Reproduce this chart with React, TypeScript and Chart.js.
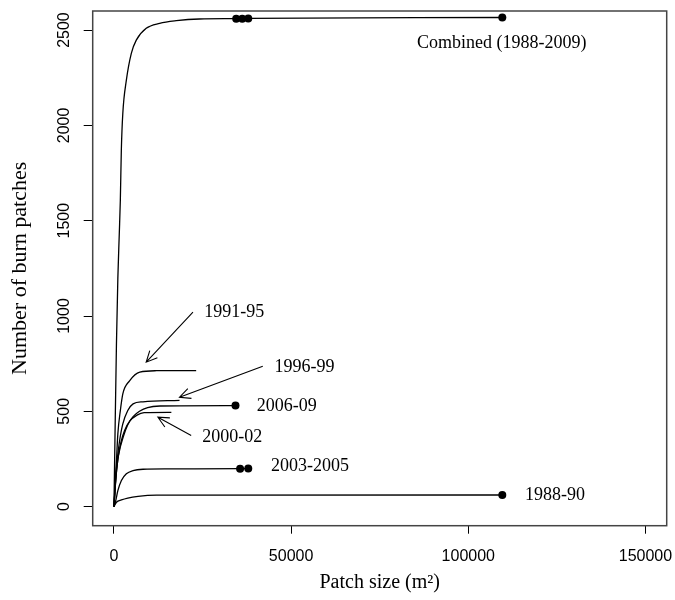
import React, { useEffect, useRef } from "react";
import { Chart, registerables } from "chart.js";

Chart.register(...registerables);

// ---- data (x = patch size in m², y = number of burn patches) ----
const combinedX = [0, 300, 700, 1100, 1500, 1800, 2080, 2500, 3500, 4900, 6300, 9100, 12900, 17600, 24100, 34500, 37900, 109600];
const combinedY = [0, 380, 850, 1200, 1430, 1607, 1870, 2064, 2237, 2378, 2447, 2509, 2535, 2549, 2558, 2560, 2561, 2566];
const p1991X = [0, 400, 700, 1100, 1800, 2500, 4400, 7300, 12000, 23200];
const p1991Y = [0, 150, 240, 383, 504, 592, 660, 706, 713, 714];
const p1996X = [0, 500, 1000, 1600, 2500, 3900, 5400, 8200, 18500];
const p1996Y = [0, 150, 260, 347, 434, 504, 539, 550, 557];
const p2006X = [0, 600, 1300, 2700, 3900, 5400, 7200, 9500, 13000, 34300];
const p2006Y = [0, 160, 270, 370, 430, 472, 500, 520, 528, 530];
const p2000X = [0, 500, 1100, 2000, 3000, 4500, 6500, 8500, 16200];
const p2000Y = [0, 140, 250, 340, 400, 450, 480, 493, 495];
const p2003X = [0, 500, 1100, 2100, 3500, 5400, 8200, 15000, 35600, 37900];
const p2003Y = [0, 31, 84, 137, 172, 189, 196, 198, 199, 200];
const p1988X = [0, 700, 2100, 3900, 6800, 12000, 109600];
const p1988Y = [0, 23, 35, 45, 54, 60, 61];

// end-point markers
const dotX = [34500, 36200, 37900, 109600, 34300, 35600, 37900, 109600];
const dotY = [2560, 2560, 2561, 2566, 530, 199, 200, 61];

const xTicks = [0, 50000, 100000, 150000];
const yTicks = [0, 500, 1000, 1500, 2000, 2500];

// labels: text, x, y (data coords, left / middle anchored)
const labelText = ["Combined (1988-2009)", "1991-95", "1996-99", "2006-09", "2000-02", "2003-2005", "1988-90"];
const labelX = [85500, 25500, 45300, 40300, 24900, 44300, 116000];
const labelY = [2432, 1020, 732, 525, 364, 212, 58];

// arrows: tail -> head (data coords)
const arrowTailX = [22300, 42000, 21800];
const arrowTailY = [1020, 737, 373];
const arrowHeadX = [9100, 18500, 12400];
const arrowHeadY = [758, 574, 469];

const zip = (xs: number[], ys: number[]) => xs.map((x, i) => ({ x, y: ys[i] }));

const serif = "'Liberation Serif', 'Times New Roman', serif";
const sans = "'Liberation Sans', Arial, sans-serif";

export default function App() {
  const ref = useRef<HTMLCanvasElement | null>(null);

  useEffect(() => {
    if (!ref.current) return;
    const lineDs = (data: { x: number; y: number }[]) => ({
      type: "scatter" as const,
      data,
      showLine: true,
      borderColor: "#000",
      borderWidth: 1.3,
      pointRadius: 0,
      cubicInterpolationMode: "monotone" as const,
      fill: false,
    });

    const decor = {
      id: "decor",
      afterDraw(chart: any) {
        const { ctx, chartArea, scales } = chart;
        const xs = scales.x;
        const ys = scales.y;
        ctx.save();
        // box
        ctx.strokeStyle = "#444";
        ctx.lineWidth = 1.5;
        ctx.strokeRect(chartArea.left, chartArea.top, chartArea.right - chartArea.left, chartArea.bottom - chartArea.top);
        // y tick labels (rotated)
        ctx.fillStyle = "#000";
        ctx.font = `16px ${sans}`;
        yTicks.forEach((v) => {
          const py = ys.getPixelForValue(v);
          ctx.save();
          ctx.translate(69, py);
          ctx.rotate(-Math.PI / 2);
          ctx.textAlign = "center";
          ctx.textBaseline = "alphabetic";
          ctx.fillText(String(v), 0, 0);
          ctx.restore();
        });
        // labels
        ctx.font = `18px ${serif}`;
        ctx.textAlign = "left";
        ctx.textBaseline = "middle";
        labelText.forEach((t, i) => {
          ctx.fillText(t, xs.getPixelForValue(labelX[i]), ys.getPixelForValue(labelY[i]));
        });
        // arrows
        ctx.strokeStyle = "#000";
        ctx.lineWidth = 1.1;
        arrowTailX.forEach((_, i) => {
          const x1 = xs.getPixelForValue(arrowTailX[i]);
          const y1 = ys.getPixelForValue(arrowTailY[i]);
          const x2 = xs.getPixelForValue(arrowHeadX[i]);
          const y2 = ys.getPixelForValue(arrowHeadY[i]);
          const a = Math.atan2(y2 - y1, x2 - x1);
          const L = 12;
          const w = 0.45;
          ctx.beginPath();
          ctx.moveTo(x1, y1);
          ctx.lineTo(x2, y2);
          ctx.moveTo(x2 - L * Math.cos(a - w), y2 - L * Math.sin(a - w));
          ctx.lineTo(x2, y2);
          ctx.lineTo(x2 - L * Math.cos(a + w), y2 - L * Math.sin(a + w));
          ctx.stroke();
        });
        ctx.restore();
      },
    };

    const chart = new Chart(ref.current, {
      type: "scatter",
      data: {
        datasets: [
          lineDs(zip(combinedX, combinedY)),
          lineDs(zip(p1991X, p1991Y)),
          lineDs(zip(p1996X, p1996Y)),
          lineDs(zip(p2006X, p2006Y)),
          lineDs(zip(p2000X, p2000Y)),
          lineDs(zip(p2003X, p2003Y)),
          lineDs(zip(p1988X, p1988Y)),
          {
            type: "scatter" as const,
            data: zip(dotX, dotY),
            showLine: false,
            pointRadius: 4,
            pointBackgroundColor: "#000",
            pointBorderColor: "#000",
            pointBorderWidth: 0,
          },
        ] as any,
      },
      options: {
        animation: false,
        responsive: false,
        maintainAspectRatio: false,
        layout: { padding: { left: 0, right: 8.3, top: 11, bottom: 0 } },
        plugins: { legend: { display: false }, tooltip: { enabled: false } },
        scales: {
          x: {
            type: "linear",
            min: -6000,
            max: 156000,
            afterBuildTicks: (s: any) => {
              s.ticks = xTicks.map((v) => ({ value: v }));
            },
            afterFit: (s: any) => {
              s.height = 74.3;
              s.paddingLeft = 0;
              s.paddingRight = 0;
            },
            grid: { drawOnChartArea: false, drawTicks: true, tickLength: 8, color: "#000", lineWidth: 1 },
            border: { display: false },
            ticks: {
              color: "#000",
              font: { family: sans, size: 16 },
              padding: 13,
              maxRotation: 0,
              autoSkip: false,
              callback: (v: any) => String(v),
            },
            title: {
              display: true,
              text: "Patch size (m²)",
              color: "#000",
              font: { family: serif, size: 20 },
              padding: { top: 0, bottom: 5 },
            },
          },
          y: {
            type: "linear",
            min: -100,
            max: 2600,
            afterBuildTicks: (s: any) => {
              s.ticks = yTicks.map((v) => ({ value: v }));
            },
            afterFit: (s: any) => {
              s.width = 92.7;
              s.paddingTop = 0;
              s.paddingBottom = 0;
            },
            grid: { drawOnChartArea: false, drawTicks: true, tickLength: 9, color: "#000", lineWidth: 1 },
            border: { display: false },
            ticks: { display: false },
            title: {
              display: true,
              text: "Number of burn patches",
              color: "#000",
              font: { family: serif, size: 22 },
              padding: { top: 7, bottom: 0 },
            },
          },
        },
      } as any,
      plugins: [decor],
    });
    return () => chart.destroy();
  }, []);

  return (
    <div style={{ position: "absolute", left: 0, top: 0, width: 675, height: 600, background: "#fff" }}>
      <canvas ref={ref} width={675} height={600} />
    </div>
  );
}
